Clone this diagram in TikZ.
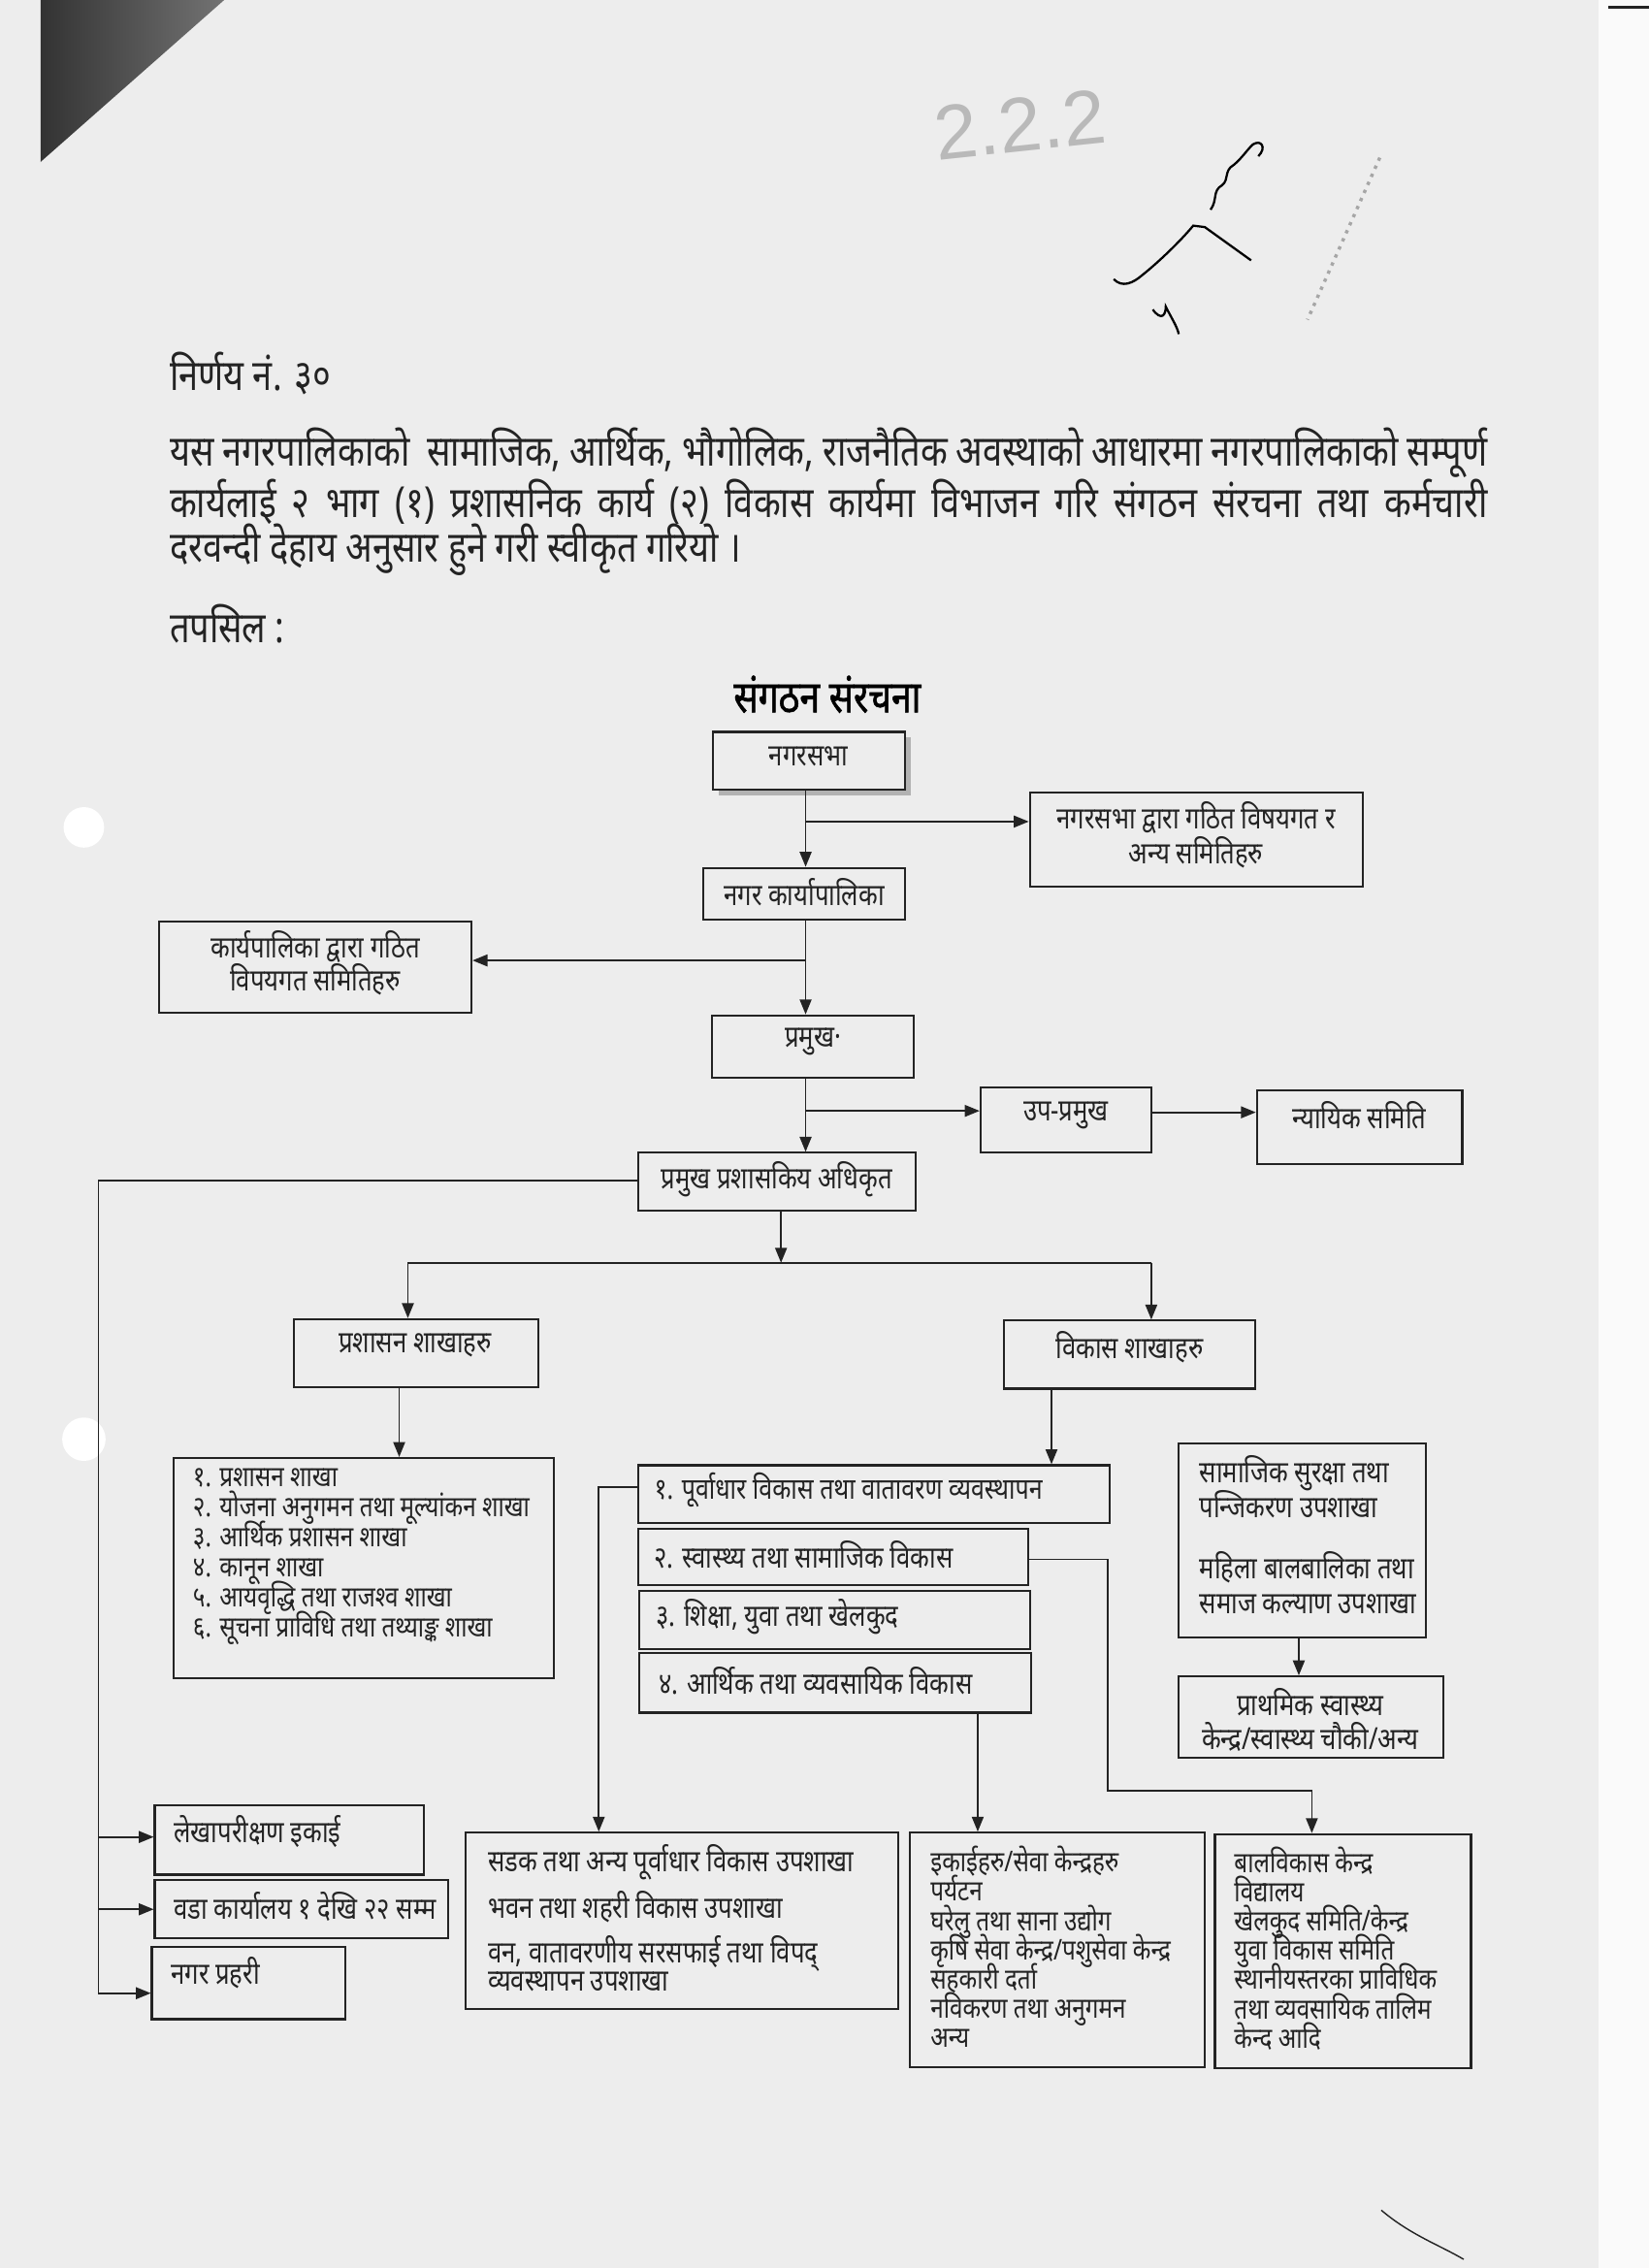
\documentclass[tikz,border=0pt]{standalone}
\usepackage{fontspec}
\setmainfont{Noto Sans}[Script=Devanagari, FakeStretch=0.82]
\newfontfamily\handfont{Liberation Sans}
\usetikzlibrary{arrows.meta,fit}
\newlength\un
\setlength\un{0.18417mm}
\newcommand\mybody{\fontsize{15.5}{20}\selectfont}
\newcommand\mytitle{\fontsize{16}{20}\selectfont\addfontfeature{FakeBold=1.2}}
\definecolor{paper}{RGB}{237,237,237}
\definecolor{ink}{RGB}{35,35,35}
\newcommand\bx[5]{\node[box, fit={(#2,#3) (#4,#5)}] (#1) {};}
\begin{document}
\begin{tikzpicture}[x=0.18417mm, y=-0.18417mm,
  box/.style={draw=ink, line width=0.75pt, inner sep=0pt},
  ln/.style={draw=ink, line width=0.6pt},
  arr/.style={ln, -{Triangle[length=1.9mm, width=1.5mm]}},
  tight/.style={execute at begin node={\lineskiplimit=-50pt\lineskip=0pt\relax}},
  ct/.style={tight, font=\fontsize{11}{12}\selectfont, inner sep=0pt, align=center, text=ink},
  lt/.style={tight, font=\fontsize{11}{12}\selectfont, inner sep=0pt, align=left, anchor=west, text=ink},
  bt/.style={font=\mybody, inner sep=0pt, anchor=west, text=ink}
]
% page
\fill[paper] (0,0) rectangle (1140,1568);
\useasboundingbox (0,0) rectangle (1140,1568);
\fill[white!70!paper] (1105,0) rectangle (1140,1568);
\draw[ink, line width=0.8pt] (1112,5) -- (1140,5);
\shade[left color=black!80, right color=black!55] (28,0) -- (155,0) -- (28,112) -- cycle;
\fill[white] (58,572) circle (14);
\fill[white] (58,995) circle (15);
\draw[ink, line width=0.5pt] (955,1528) .. controls (975,1545) and (995,1552) .. (1012,1562);

% handwritten marks
\node[text=gray!55, font=\handfont\fontsize{28}{28}\selectfont, rotate=6, inner sep=0pt] (hw) at (705,86) {2.2.2};
\draw[black, line width=0.8pt] (770,193) .. controls (776,199) and (783,196) .. (790,190) .. controls (800,182) and (815,168) .. (825,156) -- (833,157) -- (865,180);
\draw[black, line width=0.8pt] (797,214) .. controls (803,222) and (806,218) .. (806,212) .. controls (810,220) and (814,226) .. (815,231);
\draw[black, line width=0.8pt] (837,145) .. controls (842,138) and (838,132) .. (845,128) .. controls (850,124) and (846,118) .. (853,114) .. controls (858,110) and (862,104) .. (866,100) .. controls (872,96) and (876,102) .. (870,108);
\draw[gray!70, line width=1.2pt, dotted] (954,109) -- (904,221);

% text
\node[bt] (title) at (117,258) {निर्णय नं. ३०};
\node[bt] (p1) at (117,313) {\makebox[911\un][s]{यस नगरपालिकाको \ सामाजिक, आर्थिक, भौगोलिक, राजनैतिक अवस्थाको आधारमा नगरपालिकाको सम्पूर्ण}};
\node[bt] (p2) at (117,347) {\makebox[911\un][s]{कार्यलाई २ भाग (१) प्रशासनिक कार्य (२) विकास कार्यमा विभाजन गरि संगठन संरचना तथा कर्मचारी}};
\node[bt] (p3) at (117,380) {दरवन्दी देहाय अनुसार हुने गरी स्वीकृत गरियो ।};
\node[bt] (tapasil) at (117,431) {तपसिल :};
\node[font=\mytitle, inner sep=0pt, text=black] (head) at (572,480) {संगठन संरचना};

% boxes
\fill[gray!60] (497,510) rectangle (630,550);
\fill[paper] (493,506) rectangle (626,546);
\bx{ns}{493}{506}{626}{546}
\bx{nss}{712}{548}{942}{613}
\bx{karya}{486}{600}{626}{636}
\bx{kss}{110}{637}{326}{700}
\bx{pramukh}{492}{702}{632}{745}
\bx{up}{678}{752}{796}{797}
\bx{nyaya}{869}{754}{1011}{805}
\bx{cao}{441}{797}{633}{837}
\bx{prash}{203}{912}{372}{959}
\bx{vikas}{694}{913}{868}{960}
\bx{adm}{120}{1008}{383}{1160}
\bx{dev1}{441}{1013}{767}{1053}
\bx{dev2}{441}{1057}{711}{1096}
\bx{dev3}{442}{1100}{712}{1140}
\bx{dev4}{442}{1143}{713}{1184}
\bx{samaj}{815}{998}{986}{1132}
\bx{prath}{815}{1159}{998}{1215}
\bx{lekha}{107}{1248}{293}{1296}
\bx{wada}{107}{1300}{310}{1340}
\bx{prahari}{105}{1346}{239}{1396}
\bx{sadak}{322}{1267}{621}{1389}
\bx{ikai}{629}{1267}{833}{1429}
\bx{bal}{840}{1268}{1017}{1430}

% box texts
\node[ct] (t-ns) at (559,523) {नगरसभा};
\node[ct, font=\fontsize{11}{12.6}\selectfont] (t-nss) at (827,577) {नगरसभा द्वारा गठित विषयगत र\\अन्य समितिहरु};
\node[ct] (t-karya) at (556,617) {नगर कार्यापालिका};
\node[ct, font=\fontsize{11}{12}\selectfont] (t-kss) at (218,665.5) {कार्यपालिका द्वारा गठित\\विपयगत समितिहरु};
\node[ct] (t-pramukh) at (562,720) {प्रमुख·};
\node[ct] (t-up) at (737,771) {उप-प्रमुख};
\node[ct] (t-nyaya) at (940,771) {न्यायिक समिति};
\node[ct] (t-cao) at (537,815) {प्रमुख प्रशासकिय अधिकृत};
\node[ct] (t-prash) at (287,930) {प्रशासन शाखाहरु};
\node[ct] (t-vikas) at (781,931) {विकास शाखाहरु};
\node[lt, font=\fontsize{10.4}{10.9}\selectfont] (t-adm) at (133,1076) {१. प्रशासन शाखा\\२. योजना अनुगमन तथा मूल्यांकन शाखा\\३. आर्थिक प्रशासन शाखा\\४. कानून शाखा\\५. आयवृद्धि तथा राजश्व शाखा\\६. सूचना प्राविधि तथा तथ्याङ्क शाखा};
\node[lt, font=\fontsize{10.7}{12}\selectfont] (t-dev1) at (452,1030) {१. पूर्वाधार विकास तथा वातावरण व्यवस्थापन};
\node[lt] (t-dev2) at (452,1075) {२. स्वास्थ्य तथा सामाजिक विकास};
\node[lt] (t-dev3) at (453,1118) {३. शिक्षा, युवा तथा खेलकुद};
\node[lt] (t-dev4) at (455,1162) {४. आर्थिक तथा व्यवसायिक विकास};
\node[lt, font=\fontsize{11}{12.6}\selectfont] (t-samaj) at (829,1061) {सामाजिक सुरक्षा तथा\\पन्जिकरण उपशाखा\\[9.4pt]महिला बालबालिका तथा\\समाज कल्याण उपशाखा};
\node[ct, font=\fontsize{11}{12.6}\selectfont] (t-prath) at (906,1189) {प्राथमिक स्वास्थ्य\\केन्द्र/स्वास्थ्य चौकी/अन्य};
\node[lt] (t-lekha) at (120,1266) {लेखापरीक्षण इकाई};
\node[lt] (t-wada) at (120,1318) {वडा कार्यालय १ देखि २२ सम्म};
\node[lt] (t-prahari) at (118,1364) {नगर प्रहरी};
\node[lt, font=\fontsize{11}{10}\selectfont] (t-sadak) at (337,1326) {सडक तथा अन्य पूर्वाधार विकास उपशाखा\\[6.7pt]भवन तथा शहरी विकास उपशाखा\\[6.2pt]वन, वातावरणीय सरसफाई तथा विपद्\\व्यवस्थापन उपशाखा};
\node[lt, font=\fontsize{10.4}{10.6}\selectfont] (t-ikai) at (643,1346) {इकाईहरु/सेवा केन्द्रहरु\\पर्यटन\\घरेलु तथा साना उद्योग\\कृषि सेवा केन्द्र/पशुसेवा केन्द्र\\सहकारी दर्ता\\नविकरण तथा अनुगमन\\अन्य};
\node[lt, font=\fontsize{10.4}{10.6}\selectfont] (t-bal) at (853,1347) {बालविकास केन्द्र\\विद्यालय\\खेलकुद समिति/केन्द्र\\युवा विकास समिति\\स्थानीयस्तरका प्राविधिक\\तथा व्यवसायिक तालिम\\केन्द आदि};

% connectors
\coordinate (sp) at (557,0);
\draw[arr] (ns.south -| sp) -- (karya.north -| sp);
\coordinate (j1) at (557,568);
\draw[arr] (j1) -- (j1 -| nss.west);
\draw[arr] (karya.south -| sp) -- (pramukh.north -| sp);
\coordinate (j2) at (557,664);
\draw[arr] (j2) -- (j2 -| kss.east);
\draw[arr] (pramukh.south -| sp) -- (cao.north -| sp);
\coordinate (j3) at (557,768);
\draw[arr] (j3) -- (j3 -| up.west);
\coordinate (j4) at (796,769);
\draw[arr] (up.east |- j4) -- (nyaya.west |- j4);
% left spine
\coordinate (lv) at (68,816);
\coordinate (k1) at (68,1270);
\coordinate (k2) at (68,1320);
\coordinate (k3) at (68,1378);
\draw[arr] (cao.west |- lv) -- (lv) -- (k3) -- (k3 -| prahari.west);
\draw[arr] (k1) -- (k1 -| lekha.west);
\draw[arr] (k2) -- (k2 -| wada.west);
% branch split
\coordinate (hb) at (540,873);
\coordinate (hl) at (282,873);
\coordinate (hr) at (796,873);
\draw[arr] (cao.south -| hb) -- (hb);
\draw[ln] (hl) -- (hr);
\draw[arr] (hl) -- (hl |- prash.north);
\draw[arr] (hr) -- (hr |- vikas.north);
\coordinate (pa) at (276,0);
\draw[arr] (prash.south -| pa) -- (adm.north -| pa);
\coordinate (va) at (727,0);
\draw[arr] (vikas.south -| va) -- (dev1.north -| va);
\coordinate (d1) at (414,1028);
\draw[arr] (dev1.west |- d1) -- (d1) -- (d1 |- sadak.north);
\coordinate (d2a) at (766,1078);
\coordinate (d2b) at (766,1238);
\coordinate (d2c) at (907,1238);
\draw[arr] (dev2.east |- d2a) -- (d2a) -- (d2b) -- (d2c) -- (d2c |- bal.north);
\coordinate (d4) at (676,0);
\draw[arr] (dev4.south -| d4) -- (ikai.north -| d4);
\coordinate (sa) at (898,0);
\draw[arr] (samaj.south -| sa) -- (prath.north -| sa);
\end{tikzpicture}
\end{document}
